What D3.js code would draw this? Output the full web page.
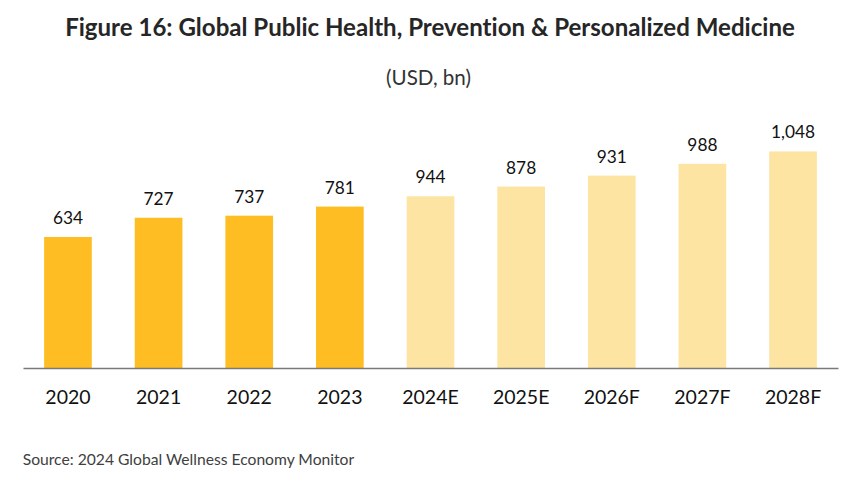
<!DOCTYPE html>
<html>
<head>
<meta charset="utf-8">
<script src="https://cdn.jsdelivr.net/npm/d3@7"></script>
<style>
  html, body { margin: 0; padding: 0; background: #fff; }
  svg { display: block; }
  text { font-family: Lato, "Open Sans", sans-serif; font-variant-ligatures: none; font-feature-settings: "liga" 0; }
</style>
</head>
<body>
<svg id="chart" width="855" height="487"></svg>
<script>
// ---- data ----
const categories = ["2020", "2021", "2022", "2023", "2024E", "2025E", "2026F", "2027F", "2028F"];
// bar heights as drawn in the reference (the 2024E bar is drawn shorter than its label)
const values = [634, 727, 737, 781, 831, 878, 931, 988, 1048];
// value labels as printed
const valueLabels = ["634", "727", "737", "781", "944", "878", "931", "988", "1,048"];
const titleText = "Figure 16: Global Public Health, Prevention & Personalized Medicine";
const subtitleText = "(USD, bn)";
const sourceText = "Source: 2024 Global Wellness Economy Monitor";

// ---- drawing ----
const svg = d3.select("#chart");
const x0 = 23, x1 = 838, baseY = 368;

const x = d3.scaleBand()
  .domain(categories)
  .range([x0, x1])
  .paddingInner(0.474)
  .paddingOuter(0.233);

const y = d3.scaleLinear()
  .domain([0, 1200])
  .range([baseY, baseY - 248]);

const isForecast = c => /[EF]$/.test(c);
const colorActual = "#FEBD22";
const colorForecast = "#FDE4A2";

function fitText(sel, targetWidth, baseSize) {
  sel.style("font-size", baseSize + "px");
  const len = sel.node().getComputedTextLength();
  sel.style("font-size", (baseSize * targetWidth / len) + "px");
}

// title
const title = svg.append("text")
  .attr("x", 430).attr("y", 36)
  .attr("text-anchor", "middle")
  .attr("fill", "#262626")
  .style("font-weight", "700")
  .text(titleText);
fitText(title, 730, 22);

const sub = svg.append("text")
  .attr("x", 428.5).attr("y", 85)
  .attr("text-anchor", "middle")
  .attr("fill", "#333333")
  .text(subtitleText);
fitText(sub, 85, 18);

// bars
svg.append("g")
  .selectAll("rect")
  .data(categories)
  .join("rect")
  .attr("x", d => x(d))
  .attr("width", x.bandwidth())
  .attr("y", (d, i) => y(values[i]))
  .attr("height", (d, i) => y(0) - y(values[i]))
  .attr("fill", d => isForecast(d) ? colorForecast : colorActual);

// value labels
svg.append("g")
  .selectAll("text")
  .data(categories)
  .join("text")
  .attr("x", d => x(d) + x.bandwidth() / 2)
  .attr("y", (d, i) => y(values[i]) - 13)
  .attr("text-anchor", "middle")
  .attr("fill", "#111111")
  .style("font-size", "17.3px")
  .text((d, i) => valueLabels[i]);

// x axis
const axis = svg.append("g")
  .attr("transform", `translate(0,${baseY})`)
  .call(d3.axisBottom(x).tickSize(0).tickSizeOuter(0));
axis.select(".domain")
  .attr("stroke", "#7a7a7a")
  .attr("stroke-width", 1.6);
axis.selectAll(".tick text")
  .attr("y", 36)
  .attr("dy", 0)
  .attr("fill", "#111111")
  .style("font-family", "Lato, \"Open Sans\", sans-serif")
  .style("font-size", "19.5px");

// source
const src = svg.append("text")
  .attr("x", 22.7).attr("y", 465)
  .attr("fill", "#404040")
  .text(sourceText);
fitText(src, 332, 15);
</script>
</body>
</html>
